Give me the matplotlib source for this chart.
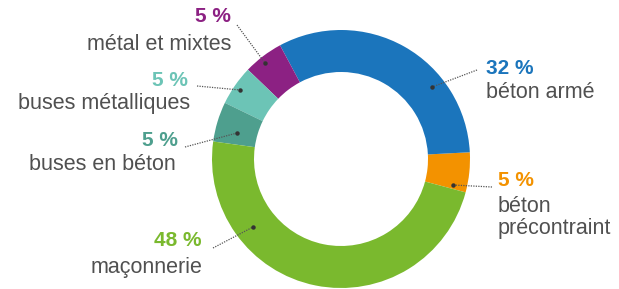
import matplotlib.pyplot as plt

W, H = 619, 289

# data
labels = ["béton\nprécontraint", "béton armé", "métal et mixtes",
          "buses métalliques", "buses en béton", "maçonnerie"]
values = [5, 32, 5, 5, 5, 48]
pct_labels = ["5 %", "32 %", "5 %", "5 %", "5 %", "48 %"]
colors = ["#F39200", "#1B75BC", "#8C2183", "#6CC4B6", "#4E9F8E", "#7AB92E"]

text_gray = "#505050"

fig = plt.figure(figsize=(W / 100, H / 100), dpi=100)
ax = fig.add_axes([0, 0, 1, 1])

# donut, centre and radius in pixels (y flipped)
cx, cy, r_out, r_in = 341, H - 159, 129, 87
ax.pie(values, colors=colors, startangle=-15, counterclock=True,
       center=(cx, cy), radius=r_out, frame=True,
       wedgeprops=dict(width=r_out - r_in, linewidth=0))
ax.set_xlim(0, W)
ax.set_ylim(0, H)
ax.set_aspect("equal")
ax.axis("off")

def Y(y):
    return H - y

# label layout: (pct x, pct y, text x, text y, ha, text va, leader start, leader end)
layout = [
    (498, 181, 498, 196, "left", "top", (492, 187), (453, 185)),
    (486, 68, 486, 92, "left", "center", (477, 70), (432, 87)),
    (231, 17, 231, 44, "right", "center", (237, 25), (265, 63)),
    (188, 80, 190, 104, "right", "center", (197, 86), (240, 90)),
    (178, 141, 176, 164, "right", "center", (185, 147), (237, 133)),
    (202, 241, 202, 268, "right", "center", (213, 248), (253, 227)),
]

for i, (px, py, tx, ty, ha, va, p0, p1) in enumerate(layout):
    ax.text(px, Y(py), pct_labels[i], color=colors[i], fontsize=15,
            fontweight="bold", ha=ha, va="center", family="Liberation Sans")
    ax.text(tx, Y(ty), labels[i], color=text_gray, fontsize=15.5, ha=ha,
            va=va, linespacing=1.05, family="Liberation Sans")
    # dotted leader with a dot on the ring
    ax.plot([p0[0], p1[0]], [Y(p0[1]), Y(p1[1])], color="#555555",
            linestyle=(0, (1, 1)), linewidth=0.9)
    ax.plot(p1[0], Y(p1[1]), "o", color="#333333", markersize=2.2)

fig.savefig("out.png", dpi=100, facecolor="white")
